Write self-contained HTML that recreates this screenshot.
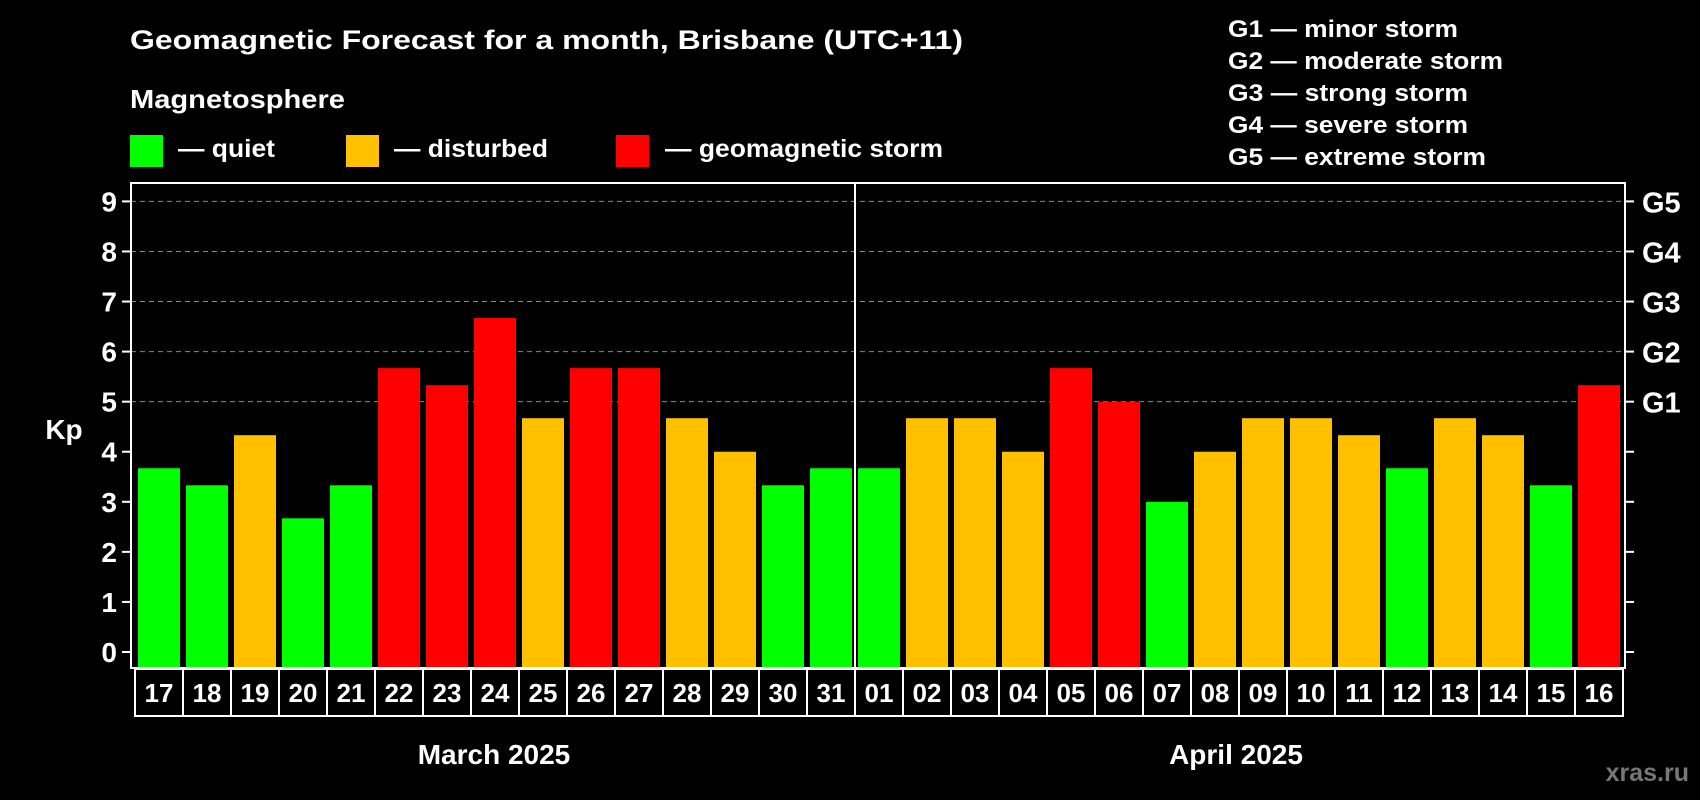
<!DOCTYPE html>
<html><head><meta charset="utf-8"><style>
html,body{margin:0;padding:0;background:#000;}
svg{display:block;font-family:"Liberation Sans",sans-serif;font-weight:bold;}
</style></head><body>
<svg id="chart" width="1700" height="800" viewBox="0 0 1700 800">
<rect x="0" y="0" width="1700" height="800" fill="#000"/>
<text x="130" y="49" font-size="27" fill="#fff" textLength="833" lengthAdjust="spacingAndGlyphs">Geomagnetic Forecast for a month, Brisbane (UTC+11)</text>
<text x="130" y="108" font-size="26" fill="#fff" textLength="215" lengthAdjust="spacingAndGlyphs">Magnetosphere</text>
<g>
<rect x="130" y="135" width="33" height="32" fill="#00ff00"/>
<text x="178" y="157" font-size="25" fill="#fff" textLength="97" lengthAdjust="spacingAndGlyphs">— quiet</text>
</g>
<g>
<rect x="346" y="135" width="33" height="32" fill="#ffc000"/>
<text x="394" y="157" font-size="25" fill="#fff" textLength="154" lengthAdjust="spacingAndGlyphs">— disturbed</text>
</g>
<g>
<rect x="616" y="135" width="33" height="32" fill="#ff0000"/>
<text x="665" y="157" font-size="25" fill="#fff" textLength="278" lengthAdjust="spacingAndGlyphs">— geomagnetic storm</text>
</g>
<g font-size="24" fill="#fff">
<text x="1228" y="37" textLength="230" lengthAdjust="spacingAndGlyphs">G1 — minor storm</text>
<text x="1228" y="69" textLength="275" lengthAdjust="spacingAndGlyphs">G2 — moderate storm</text>
<text x="1228" y="101" textLength="240" lengthAdjust="spacingAndGlyphs">G3 — strong storm</text>
<text x="1228" y="133" textLength="240" lengthAdjust="spacingAndGlyphs">G4 — severe storm</text>
<text x="1228" y="165" textLength="258" lengthAdjust="spacingAndGlyphs">G5 — extreme storm</text>
</g>
<text x="64" y="439" font-size="28" fill="#fff" text-anchor="middle">Kp</text>
<g id="grid"></g>
<g id="bars"></g>
<g id="axes"></g>
<text x="494" y="764" font-size="28" fill="#fff" text-anchor="middle">March 2025</text>
<text x="1236" y="764" font-size="28" fill="#fff" text-anchor="middle">April 2025</text>
<text x="1689" y="781" font-size="25" fill="#777" text-anchor="end">xras.ru</text>
</svg>
<script>
const days = ["17","18","19","20","21","22","23","24","25","26","27","28","29","30","31","01","02","03","04","05","06","07","08","09","10","11","12","13","14","15","16"];
const kpValues = [3.67,3.33,4.33,2.67,3.33,5.67,5.33,6.67,4.67,5.67,5.67,4.67,4,3.33,3.67,3.67,4.67,4.67,4,5.67,5,3,4,4.67,4.67,4.33,3.67,4.67,4.33,3.33,5.33];
const yTicks = [0,1,2,3,4,5,6,7,8,9];
const gLabels = ["G1","G2","G3","G4","G5"];
const gLevels = [5,6,7,8,9];

const NS = "http://www.w3.org/2000/svg";
const y0 = 652, unit = (652 - 201.4) / 9;
const frameTop = 183, frameBottom = 668;
const xLeft = 131, xRight = 1625, step = 48, barW = 42, bar0 = 138;
function yScale(v){ return y0 - v * unit; }
function xScale(i){ return bar0 + i * step; }
function mk(tag, attrs, parent){ const e = document.createElementNS(NS, tag); for (const k in attrs) e.setAttribute(k, attrs[k]); parent.appendChild(e); return e; }
function colorFor(v){ return v >= 5 ? "#ff0000" : (v >= 4 ? "#ffc000" : "#00ff00"); }

const grid = document.getElementById("grid");
gLevels.forEach(function(v){
  const l = mk("line", {x1: xLeft, x2: xRight, y1: yScale(v), y2: yScale(v), stroke: "#8a8a8a", "stroke-width": 1, "stroke-dasharray": "5,4"}, grid);
  
  
});

const bars = document.getElementById("bars");
kpValues.forEach(function(v, i){
  const r = mk("rect", {x: xScale(i), y: yScale(v), width: barW, height: frameBottom - yScale(v), fill: colorFor(v)}, bars);
  
  
});

const axes = document.getElementById("axes");
const frame = mk("rect", {x: xLeft, y: frameTop, width: xRight - xLeft, height: frameBottom - frameTop, fill: "none", stroke: "#fff", "stroke-width": 2}, axes);


const divider = mk("line", {x1: 855, x2: 855, y1: frameTop, y2: frameBottom, stroke: "#fff", "stroke-width": 2}, axes);



yTicks.forEach(function(v){
  const t = mk("line", {x1: 122, x2: xLeft, y1: yScale(v), y2: yScale(v), stroke: "#fff", "stroke-width": 2}, axes);
  
  
  const t2 = mk("line", {x1: xRight, x2: 1634, y1: yScale(v), y2: yScale(v), stroke: "#fff", "stroke-width": 2}, axes);
  
  
  const lb = mk("text", {x: 117, y: yScale(v) + 10, "font-size": 28, fill: "#fff", "text-anchor": "end"}, axes);
  lb.textContent = String(v);
  
  
});
gLabels.forEach(function(g, i){
  const lb = mk("text", {x: 1642, y: yScale(gLevels[i]) + 11, "font-size": 29, fill: "#fff"}, axes);
  lb.textContent = g;
  
  
});

days.forEach(function(d, i){
  const bx = 135 + i * step;
  const b = mk("rect", {x: bx, y: 669, width: step, height: 47, fill: "#000", stroke: "#fff", "stroke-width": 2}, axes);
  
  
  const t = mk("text", {x: bx + step / 2, y: 702, "font-size": 26, fill: "#fff", "text-anchor": "middle"}, axes);
  t.textContent = d;
  
  
});
</script>
</body></html>
